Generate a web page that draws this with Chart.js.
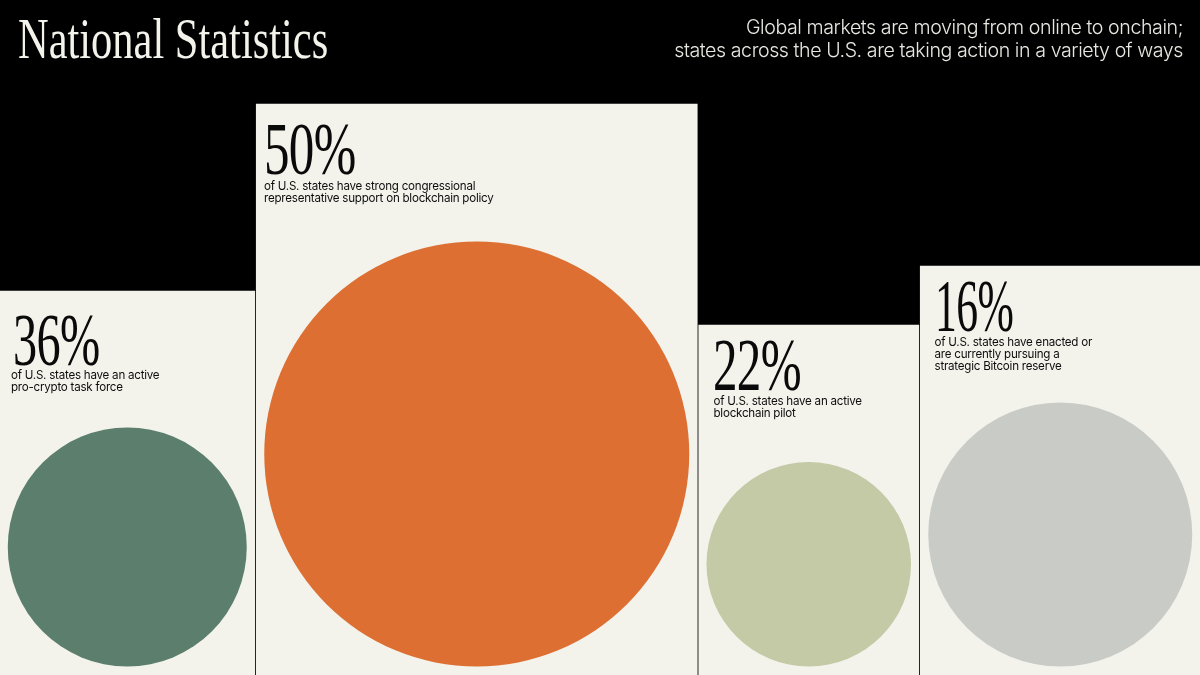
<!DOCTYPE html>
<html>
<head>
<meta charset="utf-8">
<title>National Statistics</title>
<script src="https://cdn.jsdelivr.net/npm/chart.js@4"></script>
<style>
    html, body { margin: 0; padding: 0; background: #000; }
    #wrap { position: relative; width: 1200px; height: 675px; overflow: hidden; background: #000; }
    #chart { position: absolute; left: 0; top: 0; }
    .title, .big { position: absolute; font-family: "Liberation Serif", serif; transform-origin: 0 0; white-space: nowrap; }
    .title { left: 18px; top: 7px; font-size: 57px; line-height: 64px; color: #f3f3ec; transform: scaleX(0.745); }
    .subtitle { position: absolute; right: 17px; top: 16px; font-family: Inter, sans-serif; font-weight: 300; font-size: 19.6px; line-height: 22.5px; letter-spacing: -0.42px; color: #e8e8e2; text-align: right; white-space: nowrap; }
    .big { font-size: 74px; line-height: 74px; color: #0a0a0a; letter-spacing: -1px; }
    .desc { position: absolute; font-family: Inter, sans-serif; font-size: 11.6px; line-height: 12px; letter-spacing: -0.24px; color: #0d0d0d; white-space: nowrap; }
</style>
</head>
<body>
<div id="wrap">
    <canvas id="chart" width="1200" height="675"></canvas>
    <div class="title">National Statistics</div>
    <div class="subtitle">Global markets are moving from online to onchain;<br>states across the U.S. are taking action in a variety of ways</div>
</div>
<script>
// data
const shares = [36, 50, 22, 16];
const descriptions = [
    ['of U.S. states have an active', 'pro-crypto task force'],
    ['of U.S. states have strong congressional', 'representative support on blockchain policy'],
    ['of U.S. states have an active', 'blockchain pilot'],
    ['of U.S. states have enacted or', 'are currently pursuing a', 'strategic Bitcoin reserve']
];
const columnSpans = [256.5, 442.5, 221.5, 281.5];
const columnHeights = [384, 571, 350, 409];
const circleDiameters = [239, 425, 204.5, 264];

// styles and layout
const circleColors = ['#5c7e6c', '#dd6f33', '#c4caa6', '#c9ccc6'];
const cardColor = '#f3f3ec';
const columnOrigin = -1; // outer cards run off the canvas edges
const columnGap = 1.5;
const circleBottom = 8.5;
const numberInset = [14, 8.5, 15, 15];
const numberOffset = [12, 8, 3, 3];
const numberStretch = [0.652, 0.69, 0.663, 0.59];
const descInset = [12, 8.5, 15.5, 15];
const descOffset = [78, 76, 70, 70];

// left edge of each column, running total of the spans
const columnStarts = columnSpans.map((_, i) => columnOrigin + columnSpans.slice(0, i).reduce((a, b) => a + b, 0));
const columnMids = columnStarts.map((start, i) => start + columnSpans[i] / 2);

const cardDatasets = columnSpans.map((span, i) => ({
    type: 'bar',
    data: [{ x: columnMids[i], y: columnHeights[i] }],
    backgroundColor: cardColor,
    borderWidth: 0,
    barThickness: span - columnGap,
    grouped: false,
    order: 2
}));

const circleDataset = {
    type: 'bubble',
    data: circleDiameters.map((d, i) => ({ x: columnMids[i], y: circleBottom + d / 2, r: d / 2 })),
    backgroundColor: circleColors,
    borderWidth: 0,
    hoverBorderWidth: 0,
    clip: false,
    order: 1
};

const chart = new Chart(document.getElementById('chart'), {
    data: { datasets: [...cardDatasets, circleDataset] },
    options: {
        responsive: false,
        animation: false,
        events: [],
        // bubbles would otherwise shrink the plot area to fit their radius
        layout: { padding: 0, autoPadding: false },
        plugins: { legend: { display: false }, tooltip: { enabled: false } },
        scales: {
            x: { type: 'linear', min: 0, max: 1200, offset: false, display: false },
            y: { type: 'linear', min: 0, max: 675, display: false }
        }
    }
});

// text on the cards follows the bars' own scales
const wrap = document.getElementById('wrap');
shares.forEach((share, i) => {
    const left = chart.scales.x.getPixelForValue(columnStarts[i]);
    const top = chart.scales.y.getPixelForValue(columnHeights[i]);

    const big = document.createElement('div');
    big.className = 'big';
    big.textContent = share + '%';
    big.style.left = (left + numberInset[i]) + 'px';
    big.style.top = (top + numberOffset[i]) + 'px';
    big.style.transform = 'scaleX(' + numberStretch[i] + ')';
    wrap.appendChild(big);

    const desc = document.createElement('div');
    desc.className = 'desc';
    desc.innerHTML = descriptions[i].join('<br>');
    desc.style.left = (left + descInset[i]) + 'px';
    desc.style.top = (top + descOffset[i]) + 'px';
    wrap.appendChild(desc);
});
</script>
</body>
</html>
